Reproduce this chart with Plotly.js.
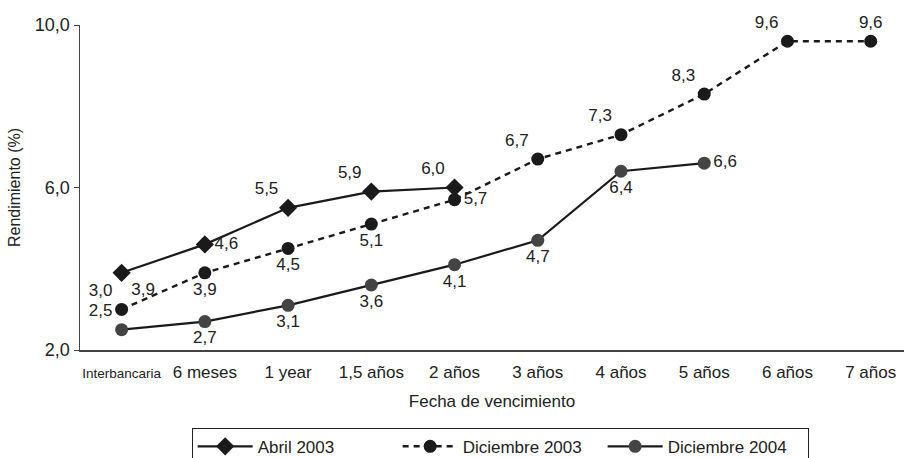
<!DOCTYPE html>
<html>
<head>
<meta charset="utf-8">
<script src="https://cdn.plot.ly/plotly-3.0.1.min.js"></script>
<style>html,body{margin:0;padding:0;background:#fff;}#chart{width:904px;height:458px;}</style>
</head>
<body>
<div id="chart"></div>
<script>
const categories = ["Interbancaria","6 meses","1 year","1,5 años","2 años","3 años","4 años","5 años","6 años","7 años"];
const abril2003 = [3.9, 4.6, 5.5, 5.9, 6.0];
const diciembre2003 = [3.0, 3.9, 4.5, 5.1, 5.7, 6.7, 7.3, 8.3, 9.6, 9.6];
const diciembre2004 = [2.5, 2.7, 3.1, 3.6, 4.1, 4.7, 6.4, 6.6];
const seriesNames = ["Abril 2003", "Diciembre 2003", "Diciembre 2004"];
const yTicks = [2, 6, 10];

const FONT = "'Liberation Sans', Arial, Helvetica, sans-serif";
const fmt = v => v.toFixed(1).replace('.', ',');
const tickLabels = categories.map((c, i) => i === 0 ? '<span style="font-size:13.5px">' + c + '</span>' : c);

const posAbril = ["bottom right", "middle right", "top left", "top left", "top left"];
const posD03 = ["top left", "bottom center", "bottom center", "bottom center", "middle right", "top left", "top left", "top left", "top left", "top center"];
const posD04 = ["top left", "bottom center", "bottom center", "bottom center", "bottom center", "bottom center", "bottom center", "middle right"];

const textFont = {family: FONT, size: 17, color: "#222"};

const traces = [
  {
    x: categories.slice(0, abril2003.length), y: abril2003, name: seriesNames[0],
    mode: "lines+markers+text", text: abril2003.map(fmt), textposition: posAbril, textfont: textFont,
    line: {color: "#1a1a1a", width: 2.2},
    marker: {symbol: "diamond", size: 14, color: "#1a1a1a"},
    cliponaxis: false
  },
  {
    x: categories.slice(0, diciembre2003.length), y: diciembre2003, name: seriesNames[1],
    mode: "lines+markers+text", text: diciembre2003.map(fmt), textposition: posD03, textfont: textFont,
    line: {color: "#1a1a1a", width: 2.4, dash: "6px,5px"},
    marker: {symbol: "circle", size: 13, color: "#1a1a1a"},
    cliponaxis: false
  },
  {
    x: categories.slice(0, diciembre2004.length), y: diciembre2004, name: seriesNames[2],
    mode: "lines+markers+text", text: diciembre2004.map(fmt), textposition: posD04, textfont: textFont,
    line: {color: "#1a1a1a", width: 2.2},
    marker: {symbol: "circle", size: 13, color: "#444444"},
    cliponaxis: false
  }
];

const layout = {
  width: 904, height: 458,
  margin: {l: 80, r: 0, t: 25, b: 108},
  paper_bgcolor: "#fff", plot_bgcolor: "#fff",
  font: {family: FONT, size: 17, color: "#222"},
  showlegend: true,
  legend: {
    orientation: "h", xref: "container", x: 0.212, xanchor: "left",
    yref: "container", y: 0.066, yanchor: "top",
    bordercolor: "#222", borderwidth: 1, font: {family: FONT, size: 17, color: "#222"},
    traceorder: "normal", itemwidth: 55, entrywidth: 135, entrywidthmode: "pixels"
  },
  xaxis: {
    type: "category", categoryorder: "array", categoryarray: categories,
    range: [-0.5, 9.4],
    tickvals: categories, ticktext: tickLabels,
    showline: true, linecolor: "#444", linewidth: 1.5,
    showgrid: false, zeroline: false, ticks: "",
    ticklabelstandoff: 6,
    tickfont: {family: FONT, size: 17, color: "#222"},
    title: {text: "Fecha de vencimiento", font: {family: FONT, size: 17, color: "#222"}, standoff: 14}
  },
  yaxis: {
    range: [2, 10], tickvals: yTicks, ticktext: yTicks.map(fmt),
    showline: true, linecolor: "#444", linewidth: 1.5,
    ticks: "outside", ticklen: 5, tickcolor: "#444",
    showgrid: false, zeroline: false,
    tickfont: {family: FONT, size: 18, color: "#222"},
    title: {text: "Rendimiento (%)", font: {family: FONT, size: 16, color: "#222"}, standoff: 10}
  }
};

Plotly.newPlot("chart", traces, layout, {displayModeBar: false, staticPlot: true});
</script>
</body>
</html>
